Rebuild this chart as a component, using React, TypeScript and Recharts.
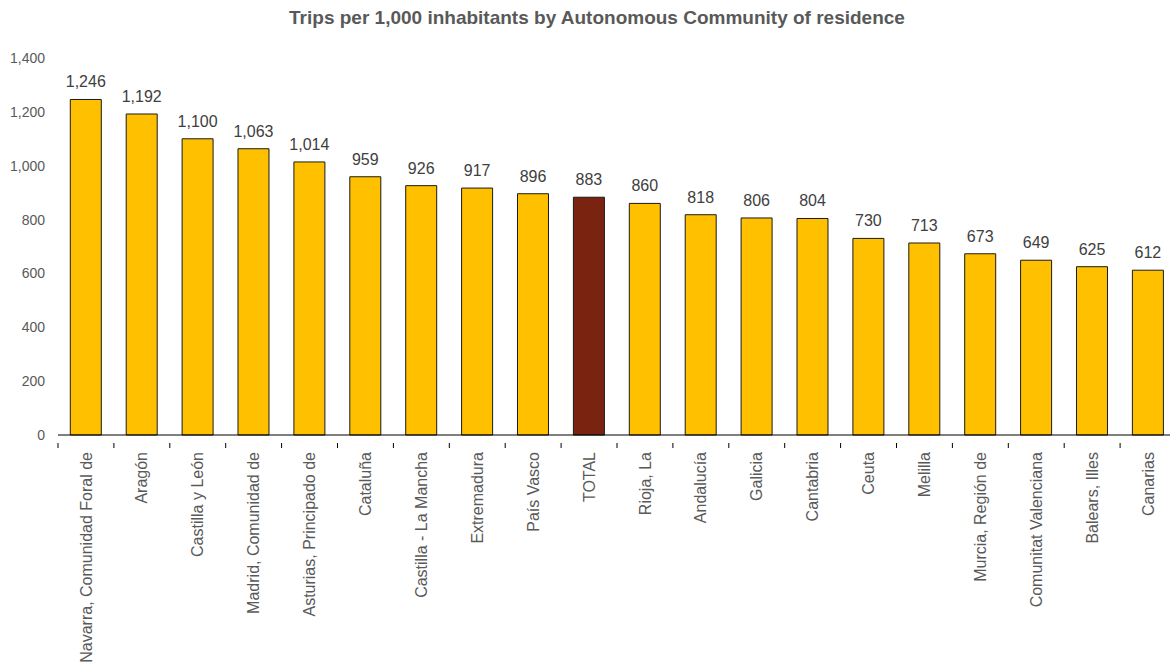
import { BarChart, Bar, XAxis, YAxis, LabelList, Cell } from "recharts";

const regions = [
  "Navarra, Comunidad Foral de",
  "Aragón",
  "Castilla y León",
  "Madrid, Comunidad de",
  "Asturias, Principado de",
  "Cataluña",
  "Castilla - La Mancha",
  "Extremadura",
  "País Vasco",
  "TOTAL",
  "Rioja, La",
  "Andalucía",
  "Galicia",
  "Cantabria",
  "Ceuta",
  "Melilla",
  "Murcia, Región de",
  "Comunitat Valenciana",
  "Balears, Illes",
  "Canarias",
];

const trips = [1246, 1192, 1100, 1063, 1014, 959, 926, 917, 896, 883, 860, 818, 806, 804, 730, 713, 673, 649, 625, 612];

const yTicks = [0, 200, 400, 600, 800, 1000, 1200, 1400];

const data = regions.map((name, i) => ({ name, trips: trips[i] }));

const CHART_W = 1176;
const Y_AXIS_W = 58;
const BAND = (CHART_W - Y_AXIS_W) / regions.length;
const FONT = "'Liberation Sans', Arial, sans-serif";

const fmt = (v: number) => v.toLocaleString("en-US");

const RotatedTick = (props: any) => {
  const { x, y, payload, index } = props;
  const last = index === regions.length - 1;
  return (
    <g transform={`translate(${x},${y})`}>
      <line x1={-BAND / 2} y1={0} x2={-BAND / 2} y2={5} stroke="#000" />
      {last && <line x1={BAND / 2} y1={0} x2={BAND / 2} y2={5} stroke="#000" />}
      <text
        transform="rotate(-90)"
        x={-9}
        y={0}
        dy="0.35em"
        textAnchor="end"
        fill="#595959"
        fontSize={16}
        fontFamily={FONT}
      >
        {payload.value}
      </text>
    </g>
  );
};

export default function App() {
  return (
    <div style={{ position: "absolute", left: 0, top: 0, width: 1170, height: 667, overflow: "hidden", background: "#fff" }}>
      <div
        style={{
          position: "absolute",
          left: 12,
          top: 7,
          width: 1170,
          textAlign: "center",
          fontFamily: FONT,
          fontWeight: "bold",
          fontSize: 19,
          lineHeight: "22px",
          color: "#595959",
        }}
      >
        Trips per 1,000 inhabitants by Autonomous Community of residence
      </div>
      <BarChart
        width={CHART_W}
        height={667}
        data={data}
        margin={{ top: 58, right: 0, bottom: 0, left: 0 }}
        barCategoryGap="22%"
      >
        <YAxis
          width={Y_AXIS_W}
          domain={[0, 1400]}
          ticks={yTicks}
          axisLine={false}
          tickLine={false}
          tickSize={0}
          tickMargin={13}
          tickFormatter={fmt}
          tick={{ fill: "#595959", fontSize: 14, fontFamily: FONT }}
        />
        <XAxis
          dataKey="name"
          interval={0}
          height={232}
          axisLine={{ stroke: "#000" }}
          tickLine={false}
          tick={<RotatedTick />}
        />
        <Bar dataKey="trips" stroke="#1a1a1a" strokeWidth={1} isAnimationActive={false}>
          {data.map((d) => (
            <Cell key={d.name} fill={d.name === "TOTAL" ? "#7B2311" : "#FFC000"} />
          ))}
          <LabelList
            dataKey="trips"
            position="top"
            offset={12}
            formatter={(v: any) => fmt(Number(v))}
            fill="#404040"
            fontSize={16}
            fontFamily={FONT}
          />
        </Bar>
      </BarChart>
    </div>
  );
}
